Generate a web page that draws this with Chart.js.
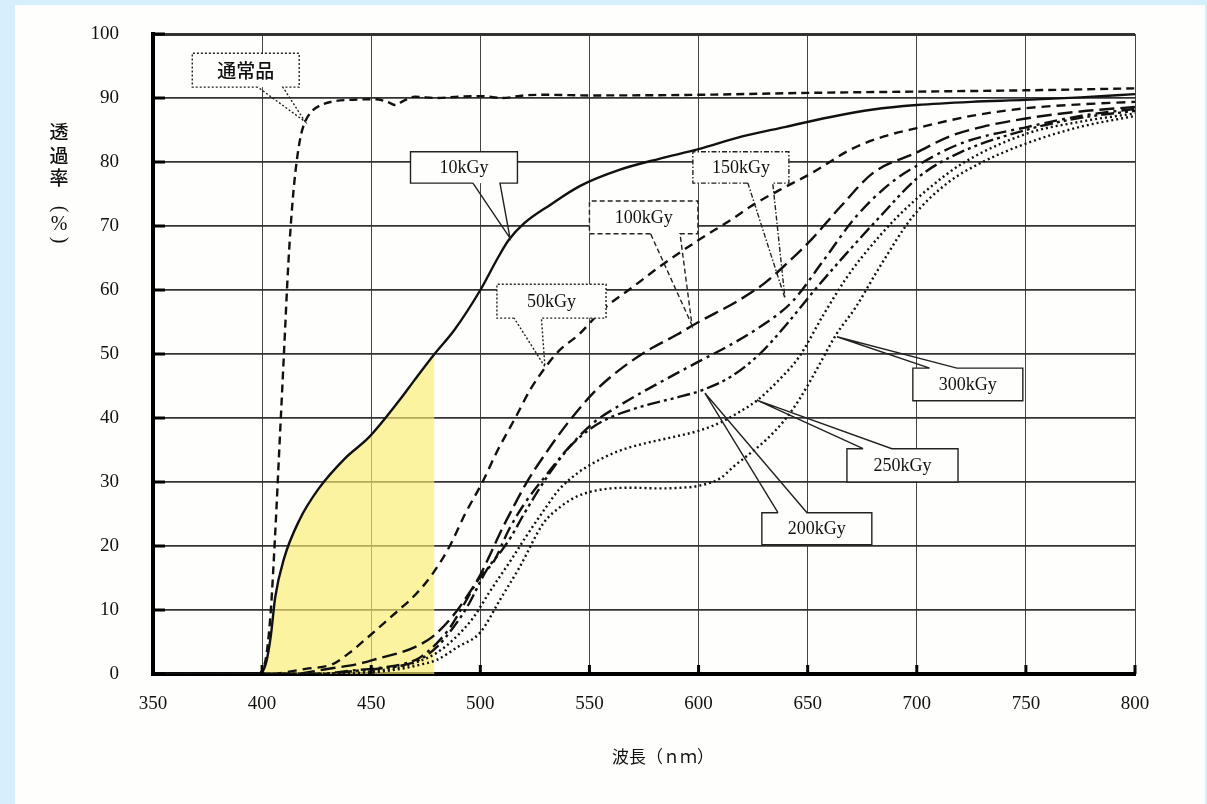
<!DOCTYPE html>
<html><head><meta charset="utf-8">
<script src="https://cdn.jsdelivr.net/npm/chart.js@4.4.1/dist/chart.umd.min.js"></script>
<style>
html,body{margin:0;padding:0;background:#d5effc;}
#wrap{position:relative;width:1207px;height:804px;}
canvas{display:block;}
</style></head>
<body><div id="wrap"><canvas id="c" width="1207" height="804"></canvas></div>
<script>
// ---- tick labels / axis ----
const xTicks = [350, 400, 450, 500, 550, 600, 650, 700, 750, 800];
const yTicks = [0, 10, 20, 30, 40, 50, 60, 70, 80, 90, 100];
const xTitle = '波長（ｎｍ）';
const yTitleChars = ['透', '過', '率', '（', '%', '）'];

// ---- series (wavelength nm, transmittance %) ----
const normalX = [350,398,400,402,404,406,408,410,412,414,416,418,420,423,427,433,440,452,458,461,465,470,480,490,500,510,520,530,550,600,650,700,750,800];
const normalY = [0,0,0.5,3,10,22,36,50,64,74,80.5,84.5,86.5,88,88.9,89.5,89.7,89.8,89.3,88.9,89.6,90.2,90,90.2,90.3,90,90.4,90.5,90.4,90.5,90.8,91,91.2,91.5];

const k10X = [350,398,400,402,404,406,410,417,426,438,449,463,470,479,488,500,508,513,520,532,546,564,582,600,620,640,660,680,700,725,750,775,800];
const k10Y = [0,0,0.3,2,6,12,18,24,29,33.7,37,42.8,46,50,53.7,60,65,67.8,70.4,73.3,76.3,78.8,80.5,82,84,85.5,87,88.2,88.9,89.4,89.7,90.1,90.6];

const k50X = [350,405,411,420,432,440,448,456,463,470,478,486,493,501,508,516,523,530,536,545,556,570,582,600,615,625,637,652,670,685,700,725,750,775,800];
const k50Y = [0,0,0.3,0.8,1.5,3.3,5.6,8,10.1,12.3,15.6,20,25,30,35,40,44.5,48,50.5,53,56.9,60.5,63.6,67.8,71,73.3,75.6,78.3,82,84,85.3,87.2,88.4,89,89.4];

const k100X = [350,415,425,432,440,448,454,462,470,478,487,495,500,504,509,515,521,530,540,552,560,575,590,600,618,630,640,652,665,680,700,715,730,750,775,800];
const k100Y = [0,0,0.5,0.9,1.3,1.9,2.5,3.2,4.2,5.8,8.9,12.7,15.5,18.3,22,26,29.8,34.5,39.2,44,46.5,50.2,53,55,58.3,61,64,68,73,78.3,81.5,84,85.5,86.8,87.9,88.6];

const k150X = [350,425,440,455,465,472,480,486,491,500,506,513,520,530,540,552,564,582,600,615,628,643,657,672,688,703,721,751,775,800];
const k150Y = [0,0,0.5,1,1.6,2.5,4.8,7.2,10,15.2,17.5,22.5,26.5,31,35.2,39.3,42,45.5,48.8,51.5,54.2,58.2,64.5,71.4,76.7,80,83,85.5,87.2,88.3];

const k200X = [350,428,440,455,465,472,480,487,494,503,510,514,520,530,541,550,559,576,590,602,615,628,640,652,668,683,701,720,750,775,800];
const k200Y = [0,0,0.4,0.9,1.4,2.2,4.2,7,10.5,16.3,19.4,21.4,25,30.5,35.5,38.2,40,42,43.2,44.4,46.5,50,54.5,59.5,65.8,71.4,77.7,81.5,85,86.9,88];

const k250X = [350,435,450,462,472,480,488,497,504,515,521,530,536,545,552,563,575,588,600,610,618,627,637,646,657,667,675,691,706,721,751,775,800];
const k250Y = [0,0,0.4,1,2,3.3,5.5,8.9,12.7,18.3,21.5,26,28.8,31.5,33,34.8,36,37,38,39.3,40.8,42.8,46,49.5,56,61.5,65.2,71.4,76,79.8,84.5,86.3,87.6];

const k300X = [350,440,455,465,473,480,490,500,509,518,529,537,544,552,560,570,582,592,600,610,616,623,631,639,646,654,663,672,683,698,714,729,751,775,800];
const k300Y = [0,0,0.4,0.9,1.5,2.2,4.3,6.5,11.6,16.7,23.6,26.2,27.7,28.6,29,29.1,29,29.1,29.4,30.6,32.4,34.3,36.6,39.5,42.8,47.5,53,57.3,63.6,71.4,76.7,79.8,83,85.5,87.2];

const seriesNames = ['通常品','10kGy','50kGy','100kGy','150kGy','200kGy','250kGy','300kGy'];
const fillLimit = 479; // yellow band under 10kGy ends here (nm)

// ---- callouts: box [x0,x1,yTop,yBottom], base [x1,x2] on side, tip [x,y] in data units ----
const callouts = [
  {text:'通常品', box:[368,417,97,91.7], base:[398,409.5], side:'bottom', tip:[419.7,86.3], dash:[2,2], cjk:true},
  {text:'10kGy',  box:[468,517,81.6,76.7], base:[496.6,509], side:'bottom', tip:[513.6,68.1], dash:[]},
  {text:'50kGy',  box:[507.6,557.6,60.9,55.6], base:[515.5,528], side:'bottom', tip:[529.6,48], dash:[2,2]},
  {text:'100kGy', box:[550,599.7,73.9,68.8], base:[578,591.5], side:'bottom', tip:[597,54.5], dash:[5,3]},
  {text:'150kGy', box:[597.4,641.4,81.6,76.7], base:[622.6,634], side:'bottom', tip:[639.6,58.7], dash:[5,2,1.5,2]},
  {text:'200kGy', box:[629,679.4,25.2,20.2], base:[636.4,649.7], side:'top', tip:[602.9,43.9], dash:[]},
  {text:'250kGy', box:[668,718.9,35.2,30], base:[675.4,688.6], side:'top', tip:[626.7,42.8], dash:[]},
  {text:'300kGy', box:[698.2,748.6,47.8,42.7], base:[705.9,718.4], side:'top', tip:[663.4,52.7], dash:[]}
];

function pts(xs, ys){ return xs.map((x,i)=>({x:x, y:ys[i]})); }
const fillPts = pts(k10X, k10Y).filter(p => p.x <= fillLimit);

const styles = [
  {data:pts(normalX,normalY), dash:[8,5]},
  {data:pts(k10X,k10Y), dash:[]},
  {data:pts(k50X,k50Y), dash:[9,6]},
  {data:pts(k100X,k100Y), dash:[15,6]},
  {data:pts(k150X,k150Y), dash:[13,5,3,5]},
  {data:pts(k200X,k200Y), dash:[13,4,3,4,3,4]},
  {data:pts(k250X,k250Y), dash:[2,3]},
  {data:pts(k300X,k300Y), dash:[2,3]}
];

const datasets = styles.map((s,i)=>({
  label: seriesNames[i], data: s.data, borderColor:'#111', borderWidth:2.4,
  borderDash: s.dash, pointRadius:0, fill:false, cubicInterpolationMode:'monotone', order:1
}));
datasets.push({label:'fill', data: fillPts, borderWidth:0, borderColor:'rgba(0,0,0,0)',
  backgroundColor:'rgba(249,236,110,0.65)', fill:'origin', pointRadius:0,
  cubicInterpolationMode:'monotone', order:10});

const serif = '"Liberation Serif", "DejaVu Serif", serif';
const cjk = '"Noto Sans CJK JP", "Noto Sans CJK SC", sans-serif';

const decor = {
  id:'decor',
  beforeDraw(chart){
    const ctx = chart.ctx;
    ctx.save();
    ctx.fillStyle = '#d5effc'; ctx.fillRect(0,0,chart.width,chart.height);
    ctx.fillStyle = '#fefefd'; ctx.fillRect(15,5,1190,799);
    ctx.restore();
  },
  afterDraw(chart){
    const ctx = chart.ctx, xs = chart.scales.x, ys = chart.scales.y, a = chart.chartArea;
    ctx.save();
    // inward tick stubs
    ctx.fillStyle = '#000';
    yTicks.forEach(v=>{ const y = ys.getPixelForValue(v); ctx.fillRect(a.left, y-1.5, 12, 3); });
    xTicks.forEach(v=>{ const x = xs.getPixelForValue(v); ctx.fillRect(x-1.5, a.bottom-9, 3, 9); });
    // callouts
    callouts.forEach(c=>{
      const L = xs.getPixelForValue(c.box[0]), R = xs.getPixelForValue(c.box[1]);
      const T = ys.getPixelForValue(c.box[2]), B = ys.getPixelForValue(c.box[3]);
      const b1 = xs.getPixelForValue(c.base[0]), b2 = xs.getPixelForValue(c.base[1]);
      const tx = xs.getPixelForValue(c.tip[0]), ty = ys.getPixelForValue(c.tip[1]);
      ctx.fillStyle = '#fefefd';
      ctx.fillRect(L, T, R-L, B-T);
      ctx.beginPath();
      if (c.side === 'top') {
        ctx.moveTo(b1, T); ctx.lineTo(L, T); ctx.lineTo(L, B); ctx.lineTo(R, B); ctx.lineTo(R, T);
        ctx.lineTo(b2, T); ctx.lineTo(tx, ty); ctx.lineTo(b1, T);
      } else {
        ctx.moveTo(b1, B); ctx.lineTo(L, B); ctx.lineTo(L, T); ctx.lineTo(R, T); ctx.lineTo(R, B);
        ctx.lineTo(b2, B); ctx.lineTo(tx, ty); ctx.lineTo(b1, B);
      }
      ctx.setLineDash(c.dash); ctx.lineWidth = 1.4; ctx.strokeStyle = '#222'; ctx.stroke();
      ctx.setLineDash([]);
      ctx.fillStyle = '#111'; ctx.textAlign = 'center'; ctx.textBaseline = 'middle';
      ctx.font = c.cjk ? ('500 19px ' + cjk) : ('18px ' + serif);
      ctx.fillText(c.text, (L+R)/2, (T+B)/2 + 1);
    });
    // y title (vertical, characters stacked)
    ctx.fillStyle = '#111'; ctx.textAlign = 'center'; ctx.textBaseline = 'middle';
    const yc = [132, 156, 178, 209, 225, 240];
    yTitleChars.forEach((ch,i)=>{
      if (ch === '（' || ch === '）') {
        ctx.save(); ctx.font = '20px ' + serif; ctx.translate(59, yc[i]); ctx.rotate(Math.PI/2);
        ctx.fillText(ch === '（' ? '(' : ')', 0, 0); ctx.restore();
      } else if (ch === '%') {
        ctx.save(); ctx.font = '20px ' + serif; ctx.fillText(ch, 59, yc[i]); ctx.restore();
      } else { ctx.font = '500 19px ' + cjk; ctx.fillText(ch, 59, yc[i]); }
    });
    // x title
    ctx.font = '17px ' + cjk;
    ctx.fillText(xTitle, 663, 757);
    ctx.restore();
  }
};

new Chart(document.getElementById('c'), {
  type:'line',
  data:{datasets},
  options:{
    responsive:false, animation:false, devicePixelRatio:1,
    layout:{padding:{left:0, right:72, top:34, bottom:0}},
    plugins:{legend:{display:false}, tooltip:{enabled:false}},
    scales:{
      x:{type:'linear', min:350, max:800,
        afterBuildTicks(s){ s.ticks = xTicks.map(v=>({value:v})); },
        ticks:{padding:19, color:'#111', font:{family:serif, size:19}},
        grid:{color:'#444', lineWidth:1, drawTicks:false},
        border:{color:'#000', width:4},
        afterFit(s){ s.height = 130; }
      },
      y:{min:0, max:100,
        afterBuildTicks(s){ s.ticks = yTicks.map(v=>({value:v})); },
        ticks:{padding:34, color:'#111', font:{family:serif, size:19}},
        grid:{color:'#333', lineWidth:(c)=> (c.tick && c.tick.value===100) ? 3 : 1.8, drawTicks:false},
        border:{color:'#000', width:4},
        afterFit(s){ s.width = 153; s.paddingTop = 0; s.paddingBottom = 0; }
      }
    }
  },
  plugins:[decor]
});
</script></body></html>
